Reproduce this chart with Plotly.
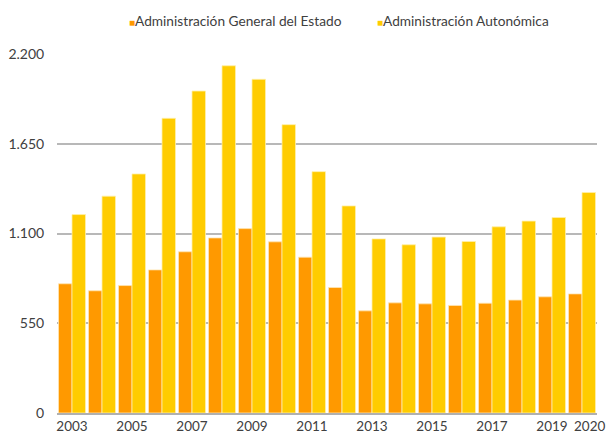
import plotly.graph_objects as go

years = list(range(2003, 2021))
age = [792, 749, 781, 877, 988, 1073, 1130, 1049, 955, 769, 626, 675, 669, 659, 673, 692, 712, 730]
autonomica = [1216, 1329, 1465, 1806, 1973, 2128, 2045, 1767, 1479, 1269, 1067, 1031, 1078, 1051, 1141, 1176, 1198, 1351]
x_ticks = [2003, 2005, 2007, 2009, 2011, 2013, 2015, 2017, 2019, 2020]
y_ticks = [0, 550, 1100, 1650, 2200]
names = ["Administración General del Estado", "Administración Autonómica"]
colors = ["#FF9900", "#FFCC00"]

font_family = "Lato, 'Open Sans', sans-serif"
txt = "#404040"

fig = go.Figure()
fig.add_trace(go.Bar(x=years, y=age, name=names[0],
                     marker=dict(color=colors[0], line=dict(color="rgba(255,230,180,0.8)", width=1))))
fig.add_trace(go.Bar(x=years, y=autonomica, name=names[1],
                     marker=dict(color=colors[1], line=dict(color="rgba(255,240,170,0.8)", width=1))))

# legend drawn as text annotations (small square + label)
legend_x = [0.1296, 0.589]
for nm, col, lx in zip(names, colors, legend_x):
    fig.add_annotation(
        xref="paper", yref="paper", x=lx, y=1.0947, xanchor="left", yanchor="middle",
        showarrow=False,
        text=f'<span style="color:{col};font-size:10px">■</span>{nm}',
        font=dict(family=font_family, size=13.7, color=txt),
    )

main_ticks = x_ticks[:-1]
last_tick = x_ticks[-1]
# last year label, nudged right (as in the original) so it does not collide with 2019
fig.add_annotation(
    xref="x", yref="paper", x=last_tick, y=0, xanchor="center", yanchor="middle",
    xshift=7, yshift=-13, showarrow=False, text=str(last_tick),
    font=dict(family=font_family, size=13.5, color=txt),
)

fig.update_layout(
    width=608, height=433,
    barmode="group", bargap=0.1, bargroupgap=0,
    separators=",.",
    showlegend=False,
    plot_bgcolor="white", paper_bgcolor="white",
    margin=dict(l=57, r=11, t=54, b=20),
    font=dict(family=font_family, size=14, color=txt),
    xaxis=dict(tickmode="array", tickvals=main_ticks, ticktext=[str(v) for v in main_ticks], tickangle=0,
               range=[2002.5, 2020.5], showgrid=False, ticks="", automargin=False,
               tickfont=dict(size=13.5, color=txt),
               showline=True, linecolor="#b0b0b0", linewidth=2),
    yaxis=dict(tickmode="array", tickvals=y_ticks, range=[0, 2200], tickformat=",d",
               showgrid=True, gridcolor="#b8b8b8", gridwidth=1.5, zeroline=False,
               ticks="outside", ticklen=9, tickcolor="rgba(0,0,0,0)", automargin=False,
               tickfont=dict(size=14, color=txt)),
)

fig.write_html("out.html", config={"displayModeBar": False},
               post_script="document.body.style.margin='0';document.body.style.overflow='hidden';")
